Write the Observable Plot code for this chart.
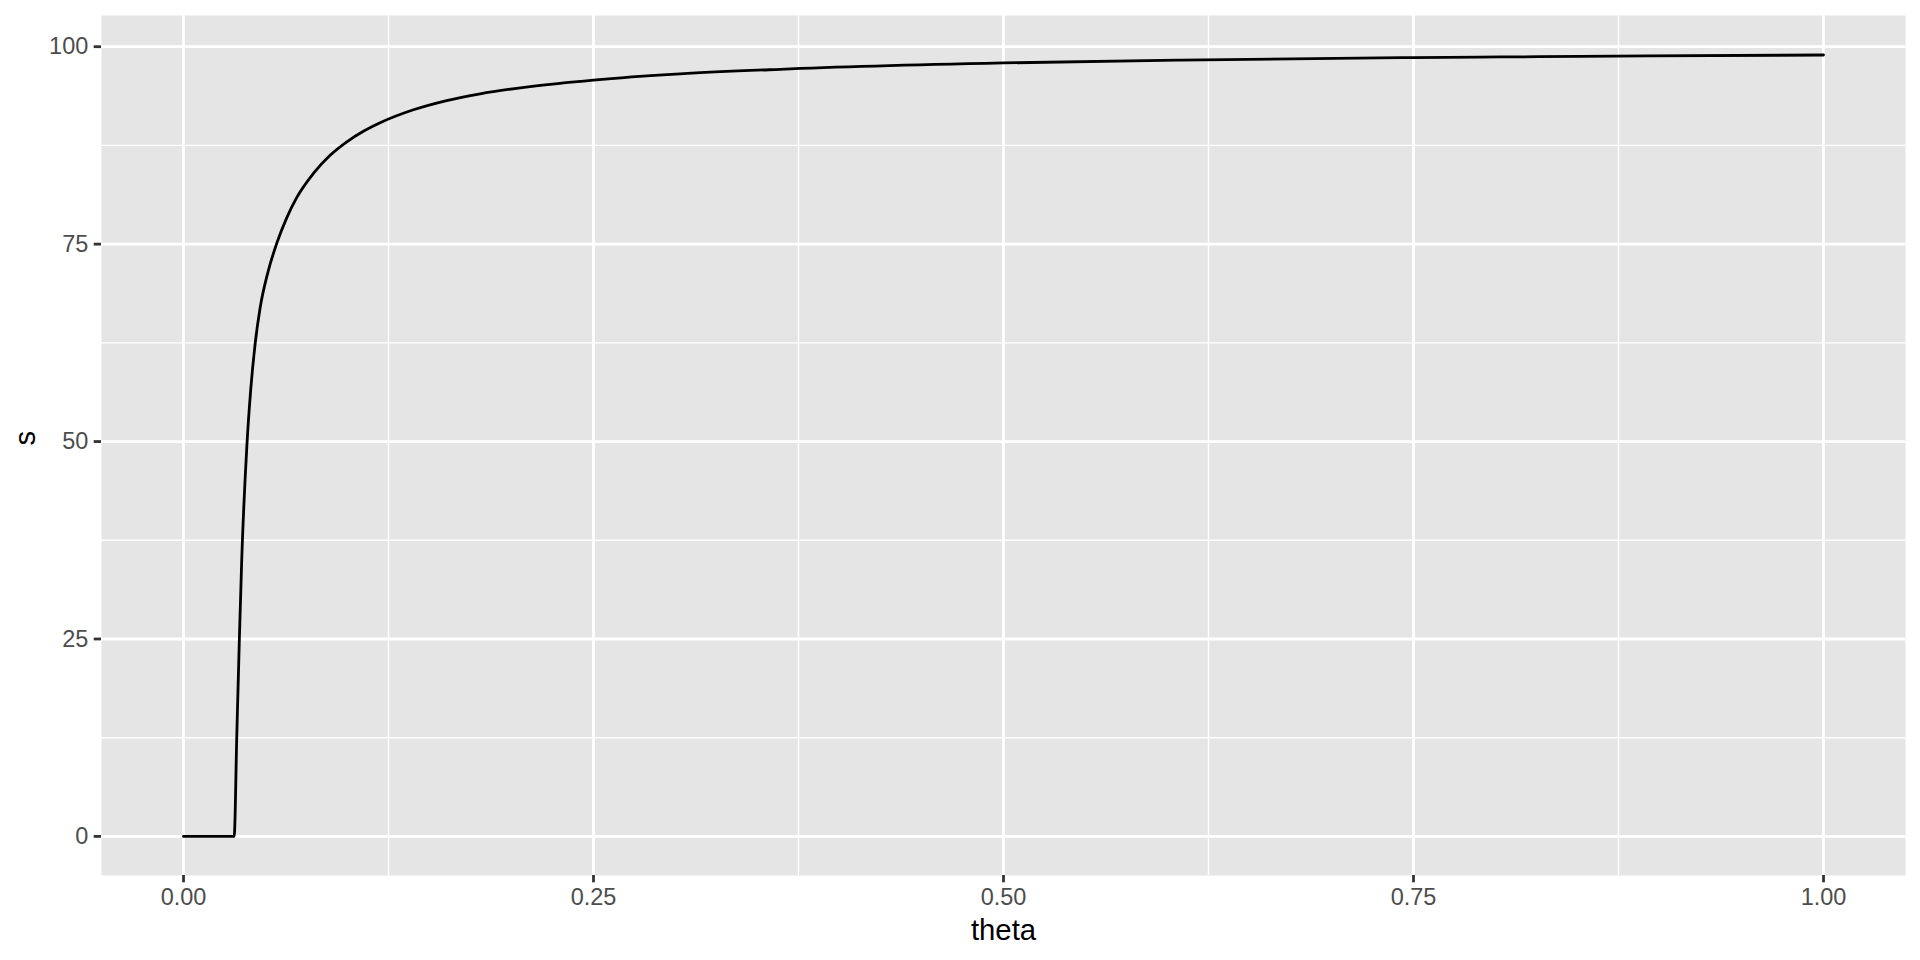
<!DOCTYPE html>
<html>
<head>
<meta charset="utf-8">
<script src="https://cdn.jsdelivr.net/npm/d3@7"></script>
<script src="https://cdn.jsdelivr.net/npm/@observablehq/plot@0.6"></script>
<style>
  html, body { margin: 0; padding: 0; background: #ffffff; }
</style>
</head>
<body>
<div id="chart"></div>
<script>
// Values
const theta = [0, 0.0309, 0.0325, 0.0341, 0.0355, 0.0386, 0.0410, 0.0437, 0.0467, 0.0515, 0.0569, 0.0630, 0.0691, 0.0792, 0.0894, 0.0996, 0.1097, 0.1199, 0.1402, 0.1605, 0.1809, 0.2113, 0.2500, 0.3028, 0.3638, 0.5000, 0.6077, 0.7500, 0.8028, 0.8516, 1.0000];
const s     = [0, 0,      12.8,   25.3,   35.0,   49.3,   56.6,   62.4,   66.9,   71.46,  75.13,  78.36,  80.92,  83.95,  86.25,  87.96,  89.29,  90.37,  92.01,  93.18,  94.04,  94.95,  95.78,  96.56,  97.14,  97.94,  98.31,  98.62,  98.70,  98.77,  98.95];

const xMajor = [0, 0.25, 0.5, 0.75, 1];
const xMinor = [0.125, 0.375, 0.625, 0.875];
const yMajor = [0, 25, 50, 75, 100];
const yMinor = [12.5, 37.5, 62.5, 87.5];
const xLabel = "theta";
const yLabel = "s";

const data = theta.map((t, i) => ({theta: t, s: s[i]}));

const chart = Plot.plot({
  width: 1920,
  height: 960,
  marginLeft: 101,
  marginRight: 15,
  marginTop: 15,
  marginBottom: 85,
  style: {fontFamily: "'Liberation Sans', Arial, sans-serif", background: "#ffffff", overflow: "visible"},
  x: {domain: [-0.05, 1.05]},
  y: {domain: [-4.95, 103.95]},
  marks: [
    Plot.frame({fill: "#E5E5E5", stroke: "none"}),
    Plot.ruleX(xMinor, {stroke: "#ffffff", strokeWidth: 1.4}),
    Plot.ruleY(yMinor, {stroke: "#ffffff", strokeWidth: 1.4}),
    Plot.ruleX(xMajor, {stroke: "#ffffff", strokeWidth: 2.8}),
    Plot.ruleY(yMajor, {stroke: "#ffffff", strokeWidth: 2.8}),
    Plot.line(data, {x: "theta", y: "s", stroke: "#000000", strokeWidth: 2.8, curve: "monotone-x"}),
    Plot.axisX({ticks: xMajor, tickFormat: d3.format(".2f"), tickSize: 7.3, tickPadding: 5.9, fontSize: 23.5, stroke: "#333333", fill: "#4D4D4D", strokeWidth: 2.8, label: null}),
    Plot.axisY({ticks: yMajor, tickFormat: d3.format("d"), tickSize: 7.3, tickPadding: 5.9, fontSize: 23.5, stroke: "#333333", fill: "#4D4D4D", strokeWidth: 2.8, label: null}),
    Plot.text([xLabel], {text: d => d, frameAnchor: "bottom", dy: 55, fontSize: 29.3, fill: "#000000", lineAnchor: "middle"}),
    Plot.text([yLabel], {text: d => d, frameAnchor: "left", dx: -76, rotate: -90, fontSize: 29.3, fill: "#000000", lineAnchor: "middle"})
  ]
});
document.getElementById("chart").appendChild(chart);
</script>
</body>
</html>
